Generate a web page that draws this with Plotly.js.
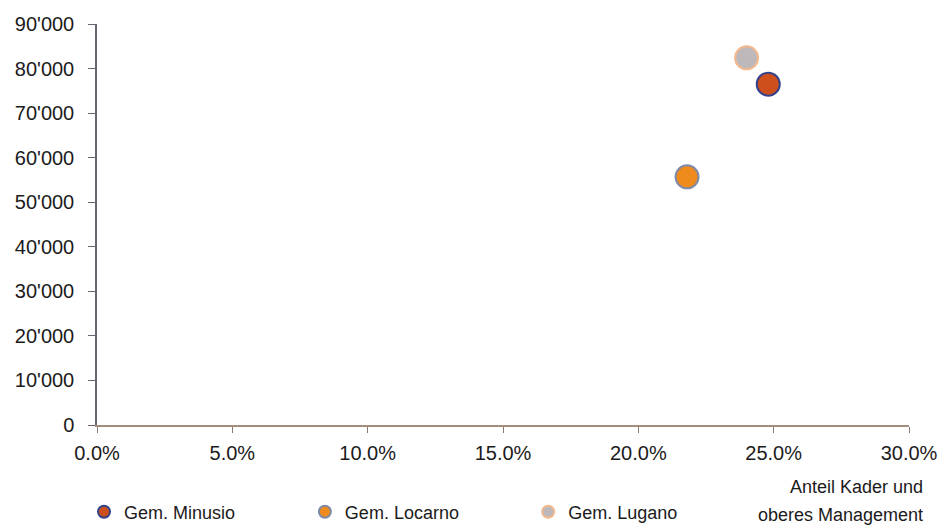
<!DOCTYPE html>
<html>
<head>
<meta charset="utf-8">
<script src="https://cdn.plot.ly/plotly-3.0.1.min.js"></script>
<style>
  html, body { margin: 0; padding: 0; background: #ffffff; }
  #chart { width: 940px; height: 528px; }
</style>
</head>
<body>
<div id="chart"></div>
<script>
// Municipalities, share of cadre / upper management (fraction) and income (CHF)
const names = ["Gem. Minusio", "Gem. Locarno", "Gem. Lugano"];
const shareManagement = [0.248, 0.218, 0.240];
const income = [76500, 55700, 82400];
const xTicks = [0, 0.05, 0.10, 0.15, 0.20, 0.25, 0.30];
const yTicks = [0, 10000, 20000, 30000, 40000, 50000, 60000, 70000, 80000, 90000];
const axisTitleLines = ["Anteil Kader und", "oberes Management"];

const fillColors = ["#cf4f1c", "#ef8a1c", "#bdb9bb"];
const lineColors = ["#34438a", "#7f8aa8", "#f2b98e"];
const legendIds = ["legend", "legend2", "legend3"];
const legendX = [-0.016, 0.256, 0.531];

const FONT = "'Liberation Sans', Arial, sans-serif";
const TEXT = "#1c1a1b";

const traces = names.map((n, i) => ({
  type: "scatter",
  mode: "markers",
  name: n,
  x: [shareManagement[i]],
  y: [income[i]],
  legend: legendIds[i],
  marker: {
    size: 23,
    color: fillColors[i],
    line: { color: lineColors[i], width: 2 }
  },
  hoverinfo: "x+y+name"
}));

function legendAt(x) {
  return {
    orientation: "h",
    x: x, xanchor: "left",
    y: -0.217, yanchor: "middle",
    itemsizing: "constant",
    font: { family: FONT, size: 18, color: TEXT },
    bgcolor: "rgba(0,0,0,0)"
  };
}

const layout = {
  width: 940,
  height: 528,
  margin: { l: 97, r: 31, t: 24, b: 103, autoexpand: false },
  paper_bgcolor: "#ffffff",
  plot_bgcolor: "#ffffff",
  separators: ".'",
  font: { family: FONT, size: 20, color: TEXT },
  showlegend: true,
  legend: legendAt(legendX[0]),
  legend2: legendAt(legendX[1]),
  legend3: legendAt(legendX[2]),
  xaxis: {
    range: [0, 0.30],
    tickvals: xTicks,
    tickformat: ".1%",
    showgrid: false,
    zeroline: false,
    showline: true,
    linecolor: "#a58d7c",
    linewidth: 1.5,
    ticks: "outside",
    ticklen: 6,
    tickcolor: "#8a7a70",
    ticklabelstandoff: 3,
    ticklabeloverflow: "allow",
    tickfont: { family: FONT, size: 20, color: TEXT },
    fixedrange: true
  },
  yaxis: {
    range: [0, 90000],
    tickvals: yTicks,
    tickformat: ",d",
    showgrid: false,
    zeroline: false,
    showline: true,
    linecolor: "#6a6470",
    linewidth: 1.5,
    ticks: "outside",
    ticklen: 7,
    tickcolor: "#6a6470",
    ticklabelstandoff: 10,
    ticklabeloverflow: "allow",
    tickfont: { family: FONT, size: 20, color: TEXT },
    fixedrange: true
  },
  annotations: axisTitleLines.map((t, i) => ({
    xref: "paper", yref: "paper",
    x: 1.02, y: [-0.155, -0.225][i],
    xanchor: "right", yanchor: "middle",
    showarrow: false,
    text: t,
    font: { family: FONT, size: 18, color: TEXT }
  }))
};

Plotly.newPlot("chart", traces, layout, { displayModeBar: false });
</script>
</body>
</html>
